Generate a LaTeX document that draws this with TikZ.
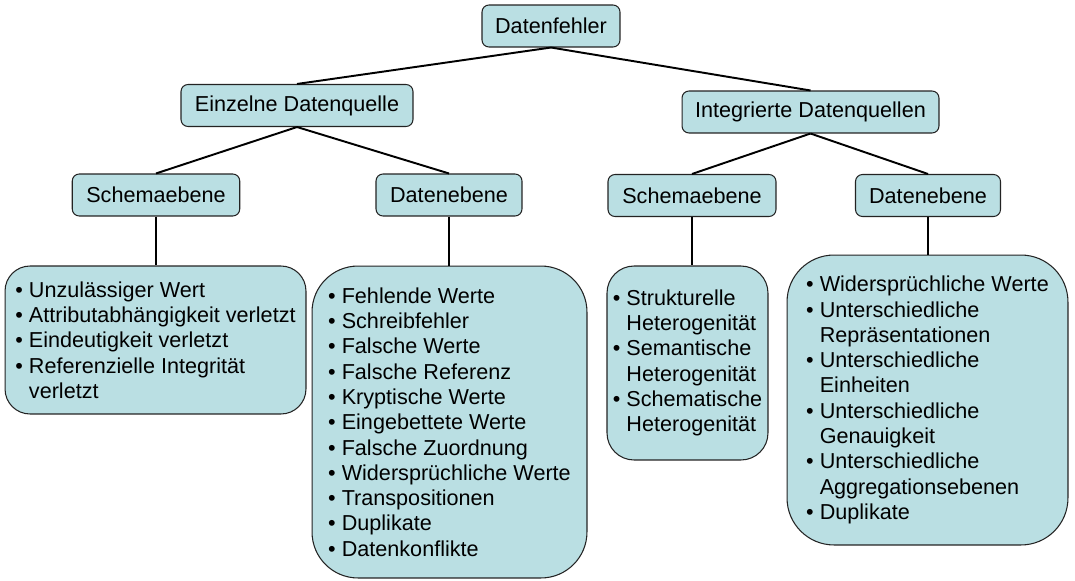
\documentclass[tikz,border=0pt]{standalone}
\usepackage{fontspec}
\setmainfont{Liberation Sans}
\usetikzlibrary{positioning}
\definecolor{KastenBlau}{RGB}{186,223,227}
\definecolor{RandGrau}{RGB}{35,35,35}

\begin{document}
\begin{tikzpicture}[x=.02cm,y=-.02cm,
    font=\fontsize{12.3}{14.4}\selectfont,
    kasten/.style={draw=RandGrau,line width=.6pt,fill=KastenBlau,
      rounded corners=.14cm,minimum height=.84cm,inner sep=0pt},
    liste/.style={draw=RandGrau,line width=.6pt,fill=KastenBlau,
      rounded corners=#1,align=left,inner sep=0pt},
    ast/.style={line width=1.1pt}]
  \useasboundingbox (0,0) rectangle (1075,581);
  % Baum
  \node[kasten,minimum width=2.76cm] (fehler) at (551,26) {Datenfehler};
  \node[kasten,minimum width=4.64cm] (einzel) at (297,105.5) {Einzelne Datenquelle};
  \node[kasten,minimum width=5.14cm] (integ) at (810.5,112) {Integrierte Datenquellen};
  \node[kasten,minimum width=3.35cm] (schemaE) at (156,195) {Schemaebene};
  \node[kasten,minimum width=2.92cm] (datenE) at (449,195) {Datenebene};
  \node[kasten,minimum width=3.36cm] (schemaI) at (692,195.5) {Schemaebene};
  \node[kasten,minimum width=2.9cm] (datenI) at (928,195.5) {Datenebene};
  % Listen
  \node[liste=.5cm,minimum width=6.02cm,minimum height=2.96cm] (listeSE) at (155.5,340)
    {• Unzulässiger Wert\\• Attributabhängigkeit verletzt\\• Eindeutigkeit verletzt\\
     • Referenzielle Integrität\\\hphantom{• }verletzt};
  \node[liste=.92cm,minimum width=5.5cm,minimum height=6.24cm] (listeDE) at (449.5,422)
    {• Fehlende Werte\\• Schreibfehler\\• Falsche Werte\\• Falsche Referenz\\
     • Kryptische Werte\\• Eingebettete Werte\\• Falsche Zuordnung\\
     • Widersprüchliche Werte\\• Transpositionen\\• Duplikate\\• Datenkonflikte};
  \node[liste=.54cm,minimum width=3.22cm,minimum height=3.88cm] (listeSI) at (687.5,363)
    {• Strukturelle\\\hphantom{• }Heterogenität\\• Semantische\\\hphantom{• }Heterogenität\\
     • Schematische\\\hphantom{• }Heterogenität};
  \node[liste=.94cm,minimum width=5.62cm,minimum height=5.8cm] (listeDI) at (927.5,400)
    {• Widersprüchliche Werte\\• Unterschiedliche\\\hphantom{• }Repräsentationen\\
     • Unterschiedliche\\\hphantom{• }Einheiten\\• Unterschiedliche\\\hphantom{• }Genauigkeit\\
     • Unterschiedliche\\\hphantom{• }Aggregationsebenen\\• Duplikate};
  % Verbindungen
  \draw[ast] (fehler.south) -- (einzel.north);
  \draw[ast] (fehler.south) -- (integ.north);
  \draw[ast] (einzel.south) -- (schemaE.north);
  \draw[ast] (einzel.south) -- (datenE.north);
  \draw[ast] (integ.south) -- (schemaI.north);
  \draw[ast] (integ.south) -- (datenI.north);
  \draw[ast] (schemaE.south) -- (schemaE.south |- listeSE.north);
  \draw[ast] (datenE.south) -- (datenE.south |- listeDE.north);
  \draw[ast] (schemaI.south) -- (schemaI.south |- listeSI.north);
  \draw[ast] (datenI.south) -- (datenI.south |- listeDI.north);
\end{tikzpicture}
\end{document}
